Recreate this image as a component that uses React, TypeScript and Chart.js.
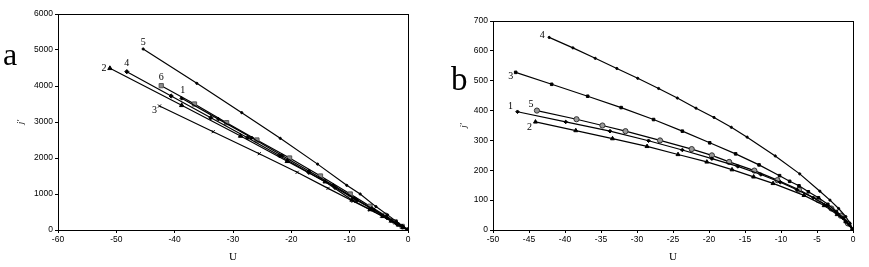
import React, { useEffect, useRef } from "react";
import { Chart, registerables } from "chart.js";

Chart.register(...registerables);

// ---------- Panel a data ----------
const a1 = [[-38.8, 3657], [-32.5, 3080], [-26.8, 2560], [-21.6, 2070], [-17, 1640], [-12.8, 1240], [-9.2, 890], [-6.2, 600], [-3.8, 370], [-2, 195], [-0.8, 78], [0, 0]];
const a2 = [[-51.1, 4491], [-38.8, 3463], [-28.7, 2611], [-20.7, 1908], [-14.2, 1342], [-9.6, 833], [-6.5, 570], [-4.3, 380], [-2.8, 250], [-1.6, 140], [-0.8, 70], [0, 0]];
const a3 = [[-42.6, 3444], [-33.4, 2731], [-25.5, 2120], [-19, 1602], [-13.7, 1157], [-9.4, 800], [-6.5, 560], [-4.5, 390], [-3, 260], [-1.8, 155], [-0.9, 75], [0, 0]];
const a4 = [[-48.2, 4398], [-40.6, 3722], [-33.8, 3120], [-27.5, 2560], [-22, 2060], [-17, 1600], [-12.5, 1180], [-8.8, 830], [-5.8, 550], [-3.6, 340], [-2, 190], [-0.9, 85], [0, 0]];
const a5 = [[-45.4, 5028], [-36.2, 4074], [-28.5, 3259], [-21.9, 2546], [-15.5, 1830], [-10.5, 1240], [-8.2, 1000], [-5.5, 650], [-3.5, 420], [-2, 240], [-1, 120], [0, 0]];
const a6 = [[-42.3, 4009], [-36.6, 3500], [-31.1, 2981], [-25.9, 2500], [-20.3, 2000], [-15, 1500], [-9.9, 1000], [-6.5, 660], [-4, 410], [-2.2, 225], [-1, 100], [0, 0]];

// ---------- Panel b data ----------
const b1 = [[-46.6, 396], [-39.9, 362], [-33.75, 331], [-28.4, 299], [-23.7, 268], [-19.6, 239], [-16, 213], [-12.8, 186], [-10.1, 160], [-7.8, 135], [-5.5, 108], [-3.7, 82], [-2.2, 55], [-1, 28], [0, 0]];
const b2 = [[-44.1, 362], [-38.5, 333], [-33.4, 306], [-28.6, 280], [-24.3, 253], [-20.3, 228], [-16.8, 202], [-13.8, 178], [-11.1, 156], [-6.8, 116], [-4, 82], [-2.2, 52], [-1, 28], [0, 0]];
const b3 = [[-46.85, 528], [-41.85, 488], [-36.85, 448], [-32.2, 410], [-27.7, 370], [-23.7, 331], [-19.9, 292], [-16.3, 255], [-13.05, 218], [-10.2, 182], [-8.8, 163], [-7.5, 148], [-6.2, 128], [-4.8, 108], [-3.5, 86], [-2.3, 62], [-1.3, 40], [-0.5, 18], [0, 0]];
const b4 = [[-42.2, 645], [-38.9, 610], [-35.8, 575], [-32.8, 541], [-29.9, 508], [-27, 474], [-24.4, 442], [-21.8, 408], [-19.3, 377], [-16.9, 344], [-14.7, 311], [-10.8, 248], [-7.4, 188], [-4.6, 130], [-3.2, 100], [-2, 72], [-1, 45], [-0.4, 22], [0, 0]];
const b5 = [[-43.9, 400], [-38.4, 371], [-34.8, 350], [-31.6, 331], [-26.8, 300], [-22.4, 271], [-19.6, 250], [-17.2, 228], [-13.7, 199], [-10.5, 167], [-7.5, 135], [-4.8, 100], [-3, 72], [-1.7, 48], [-0.7, 22], [0, 0]];

const toPts = (arr: number[][]) => arr.map(([x, y]) => ({ x, y }));

type Lbl = { ds: number; text: string; dx: number; dy: number };

const annotPlugin = {
  id: "annot",
  afterDraw(chart: any) {
    const o = chart.options.plugins.annot;
    const { ctx, chartArea } = chart;
    ctx.save();
    ctx.strokeStyle = "#000";
    ctx.lineWidth = 1;
    ctx.strokeRect(chartArea.left + 0.5, chartArea.top + 0.5, chartArea.right - chartArea.left, chartArea.bottom - chartArea.top);
    ctx.fillStyle = "#000";
    ctx.font = "10px 'Liberation Serif', serif";
    ctx.textAlign = "center";
    ctx.textBaseline = "middle";
    (o.labels as Lbl[]).forEach((l) => {
      const p = chart.data.datasets[l.ds].data[0];
      const px = chart.scales.x.getPixelForValue(p.x);
      const py = chart.scales.y.getPixelForValue(p.y);
      ctx.fillText(l.text, px + l.dx, py + l.dy);
    });
    ctx.font = o.letterFont;
    ctx.textAlign = "left";
    ctx.textBaseline = "alphabetic";
    ctx.fillText(o.letter, o.letterX, o.letterY);
    ctx.restore();
  },
};

function ds(data: number[][], style: string, radius: number, fill = "#000", border = "#000") {
  return {
    data: toPts(data),
    borderColor: "#000",
    borderWidth: 1.2,
    pointStyle: style,
    pointRadius: radius,
    pointBackgroundColor: fill,
    pointBorderColor: border,
    pointBorderWidth: 1,
    showLine: true,
    tension: 0,
  };
}

function makeOptions(cfg: any) {
  const tickFont = { family: "'Liberation Sans', Arial, sans-serif", size: 8.5 };
  const fmt = (v: any) => String(v);
  return {
    responsive: false,
    animation: false,
    layout: { padding: { left: 0, right: cfg.padRight, top: cfg.padTop, bottom: 0 } },
    plugins: {
      legend: { display: false },
      tooltip: { enabled: false },
      annot: cfg.annot,
    },
    scales: {
      x: {
        type: "linear",
        min: cfg.xmin,
        max: 0,
        ticks: { stepSize: cfg.xstep, font: tickFont, color: "#000", padding: 2, maxRotation: 0, callback: fmt },
        grid: { drawOnChartArea: false, drawTicks: true, tickLength: 3, color: "#000" },
        border: { color: "#000", width: 1 },
        title: { display: true, text: "U", font: { family: "'Liberation Serif', serif", size: 11 }, color: "#000", padding: { top: 0, bottom: 3 } },
        afterFit: (s: any) => { s.height = cfg.xAxisH; },
      },
      y: {
        type: "linear",
        min: 0,
        max: cfg.ymax,
        ticks: { stepSize: cfg.ystep, font: tickFont, color: "#000", padding: 2, callback: fmt },
        grid: { drawOnChartArea: false, drawTicks: true, tickLength: 3, color: "#000" },
        border: { color: "#000", width: 1 },
        title: { display: true, text: "j'", font: { family: "'Liberation Serif', serif", size: 9, style: "italic" }, color: "#000", padding: { top: cfg.yTitlePad, bottom: 0 } },
        afterFit: (s: any) => { s.width = cfg.yAxisW; },
      },
    },
  };
}

function Panel(props: { left: number; width: number; datasets: any[]; cfg: any }) {
  const ref = useRef<HTMLCanvasElement | null>(null);
  useEffect(() => {
    if (!ref.current) return;
    const chart = new Chart(ref.current, {
      type: "scatter",
      data: { datasets: props.datasets },
      options: makeOptions(props.cfg) as any,
      plugins: [annotPlugin],
    });
    return () => chart.destroy();
  }, []);
  return (
    <canvas
      ref={ref}
      width={props.width}
      height={267}
      style={{ position: "absolute", left: props.left, top: 0, width: props.width, height: 267 }}
    />
  );
}

export default function App() {
  const gray = "#8a8a8a";
  const dsA = [
    ds(a1, "rectRot", 1.8),
    ds(a2, "triangle", 2.5),
    ds(a3, "crossRot", 2.2),
    ds(a4, "rectRot", 2.1),
    ds(a5, "circle", 1.1),
    ds(a6, "rect", 3, gray, "#555"),
  ];
  const dsB = [
    ds(b1, "rectRot", 1.8),
    ds(b2, "triangle", 2.3),
    ds(b3, "rect", 1.8),
    ds(b4, "circle", 1.1),
    ds(b5, "circle", 2.6, "#9a9a9a", "#333"),
  ];
  const cfgA = {
    xmin: -60, xstep: 10, ymax: 6000, ystep: 1000,
    padRight: 22, padTop: 14, xAxisH: 37, yAxisW: 58, yTitlePad: 15,
    annot: {
      letter: "a", letterX: 3, letterY: 65, letterFont: "32px 'Liberation Serif', serif",
      labels: [
        { ds: 4, text: "5", dx: 0, dy: -7 },
        { ds: 1, text: "2", dx: -6, dy: 0 },
        { ds: 3, text: "4", dx: 0, dy: -8 },
        { ds: 5, text: "6", dx: 0, dy: -8 },
        { ds: 0, text: "1", dx: 1, dy: -8 },
        { ds: 2, text: "3", dx: -5, dy: 4 },
      ],
    },
  };
  const cfgB = {
    xmin: -50, xstep: 5, ymax: 700, ystep: 100,
    padRight: 16, padTop: 21, xAxisH: 37, yAxisW: 53, yTitlePad: 18,
    annot: {
      letter: "b", letterX: 11, letterY: 90, letterFont: "33px 'Liberation Serif', serif",
      labels: [
        { ds: 3, text: "4", dx: -7, dy: -2 },
        { ds: 2, text: "3", dx: -5, dy: 4 },
        { ds: 0, text: "1", dx: -7, dy: -5 },
        { ds: 4, text: "5", dx: -6, dy: -6 },
        { ds: 1, text: "2", dx: -6, dy: 5 },
      ],
    },
  };
  return (
    <div style={{ position: "fixed", left: 0, top: 0, width: 869, height: 267, background: "#fff" }}>
      <Panel left={0} width={430} datasets={dsA} cfg={cfgA} />
      <Panel left={440} width={429} datasets={dsB} cfg={cfgB} />
    </div>
  );
}
